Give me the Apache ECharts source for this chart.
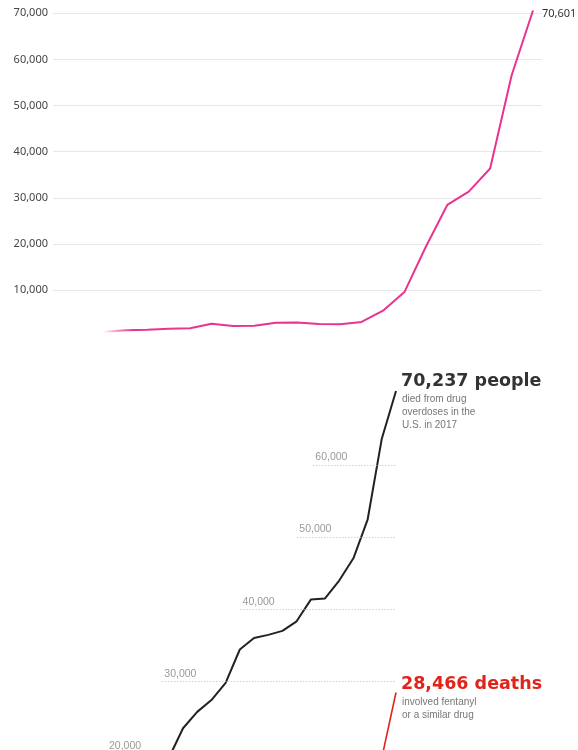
<!DOCTYPE html>
<html>
<head>
<meta charset="utf-8">
<script src="https://cdn.jsdelivr.net/npm/echarts@6/dist/echarts.min.js"></script>
<style>
html, body { margin: 0; padding: 0; background: #fff; overflow: hidden; }
#main { width: 578px; height: 900px; }
</style>
</head>
<body>
<div id="main"></div>
<script>
// top chart: deaths involving fentanyl / synthetic opioids
const topYears = [2001, 2002, 2003, 2004, 2005, 2006, 2007, 2008, 2009, 2010, 2011,
    2012, 2013, 2014, 2015, 2016, 2017, 2018, 2019, 2020, 2021];
const topDeaths = [960, 1300, 1400, 1660, 1740, 2710, 2210, 2310, 2950, 3010, 2670,
    2630, 3110, 5540, 9580, 19410, 28470, 31340, 36360, 56520, 70601];
const topTickStep = 10000;
const topMax = 70000;

// bottom chart: all drug overdose deaths vs fentanyl, 1999-2017
const years = [1999, 2000, 2001, 2002, 2003, 2004, 2005, 2006, 2007, 2008,
    2009, 2010, 2011, 2012, 2013, 2014, 2015, 2016, 2017];
const allDeaths = [16849, 17415, 19394, 23518, 25785, 27424, 29813, 34425, 36010, 36450,
    37004, 38329, 41340, 41502, 43982, 47055, 52404, 63632, 70237];
const fentanylDeaths = [730, 782, 957, 1295, 1400, 1664, 1742, 2707, 2213, 2306,
    2946, 3007, 2666, 2628, 3105, 5544, 9580, 19413, 28466];
const levels = [20000, 30000, 40000, 50000, 60000];

const pink = '#e8338f';
const red = '#e2231a';

function fmt(v) {
    return Number(v).toLocaleString('en-US');
}

// year where the total line first passes a level
function crossYear(level) {
    for (let i = 1; i < allDeaths.length; i++) {
        if (allDeaths[i] >= level) {
            const a = allDeaths[i - 1], b = allDeaths[i];
            return years[i - 1] + (level - a) / (b - a);
        }
    }
    return years[years.length - 1];
}

const lastYear = years[years.length - 1];
const levelLines = levels.map(l => [
    { coord: [crossYear(l) - 4.5, l], value: l },
    { coord: [lastYear, l] }
]);

const chart = echarts.init(document.getElementById('main'), null, { renderer: 'canvas' });

const option = {
    animation: false,
    grid: [
        { left: 53, right: 36, top: 13.3, height: 323, outerBoundsMode: 'none' },
        { left: 0, right: 182, top: 392.7, height: 505.3, outerBoundsMode: 'none' }
    ],
    xAxis: [
        { gridIndex: 0, type: 'value', min: 1998.6, max: 2021.42, show: false },
        { gridIndex: 1, type: 'value', min: 1989.11, max: lastYear, show: false }
    ],
    yAxis: [
        {
            gridIndex: 0, type: 'value', min: 0, max: topMax, interval: topTickStep,
            axisLine: { show: false },
            axisTick: { show: false },
            axisLabel: {
                showMinLabel: false,
                margin: 5,
                color: '#444',
                fontSize: 11,
                fontFamily: 'Noto Sans',
                formatter: v => fmt(v)
            },
            splitLine: { showMinLine: false, lineStyle: { color: '#e8e8e8', width: 1 } }
        },
        { gridIndex: 1, type: 'value', min: 0, max: 70000, show: false }
    ],
    series: [
        {
            type: 'line',
            xAxisIndex: 0,
            yAxisIndex: 0,
            data: topYears.map((y, i) => [y, topDeaths[i]]),
            showSymbol: false,
            clip: false,
            silent: true,
            lineStyle: {
                width: 2,
                color: new echarts.graphic.LinearGradient(0, 0, 1, 0, [
                    { offset: 0, color: 'rgba(232,51,143,0)' },
                    { offset: 0.07, color: pink },
                    { offset: 1, color: pink }
                ])
            },
            endLabel: {
                show: true,
                distance: 9,
                offset: [0, 3],
                color: '#333',
                fontSize: 11,
                fontFamily: 'Noto Sans',
                formatter: p => fmt(p.value[1])
            }
        },
        {
            type: 'line',
            xAxisIndex: 1,
            yAxisIndex: 1,
            data: years.map((y, i) => [y, allDeaths[i]]),
            showSymbol: false,
            clip: false,
            silent: true,
            z: 3,
            lineStyle: { width: 2, color: '#222' },
            markLine: {
                silent: true,
                symbol: 'none',
                animation: false,
                lineStyle: { type: [1, 2], color: '#bbb', width: 1 },
                label: {
                    position: 'insideStartTop',
                    distance: 2,
                    color: '#999',
                    fontSize: 10.5,
                    fontFamily: 'Liberation Sans',
                    formatter: p => fmt(p.value)
                },
                emphasis: { disabled: true },
                data: levelLines
            }
        },
        {
            type: 'line',
            xAxisIndex: 1,
            yAxisIndex: 1,
            data: years.map((y, i) => [y, fentanylDeaths[i]]),
            showSymbol: false,
            clip: false,
            silent: true,
            z: 3,
            lineStyle: { width: 1.6, color: red }
        }
    ],
    graphic: [
        {
            type: 'text', x: 401, y: 381,
            style: {
                text: fmt(allDeaths[allDeaths.length - 1]) + ' people',
                font: 'bold 17.5px "DejaVu Sans"',
                fill: '#333',
                verticalAlign: 'middle'
            }
        },
        {
            type: 'text', x: 402, y: 393,
            style: {
                text: 'died from drug\noverdoses in the\nU.S. in ' + lastYear,
                font: '10px "Liberation Sans"',
                lineHeight: 13,
                fill: '#777',
                verticalAlign: 'top'
            }
        },
        {
            type: 'text', x: 401, y: 684,
            style: {
                text: fmt(fentanylDeaths[fentanylDeaths.length - 1]) + ' deaths',
                font: 'bold 17.5px "DejaVu Sans"',
                fill: red,
                verticalAlign: 'middle'
            }
        },
        {
            type: 'text', x: 402, y: 696,
            style: {
                text: 'involved fentanyl\nor a similar drug',
                font: '10px "Liberation Sans"',
                lineHeight: 12.5,
                fill: '#777',
                verticalAlign: 'top'
            }
        }
    ]
};

chart.setOption(option);
</script>
</body>
</html>
